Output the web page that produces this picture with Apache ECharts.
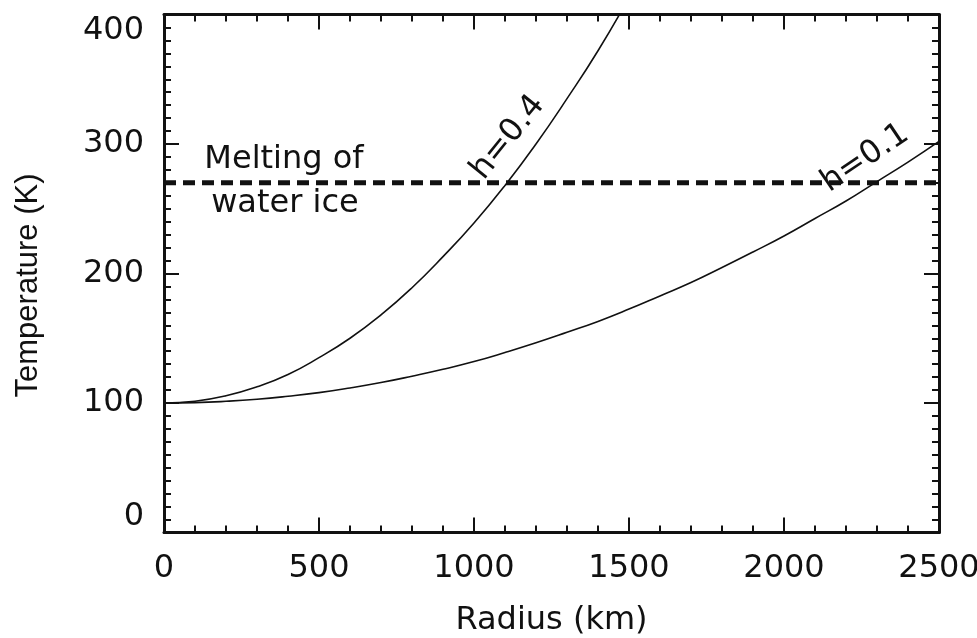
<!DOCTYPE html>
<html><head><meta charset="utf-8">
<script src="https://cdn.jsdelivr.net/npm/echarts@6/dist/echarts.min.js"></script>
<style>html,body{margin:0;padding:0;background:#fff}#c{width:977px;height:638px}</style>
</head><body><div id="c"></div>
<script>
// Radius (km) and temperature (K)
const radiusH04 = [0,100,200,300,400,500,600,700,800,900,1000,1100,1200,1300,1400,1500];
const tempH04   = [100,101.4,105.6,112.5,122,135,150,168,189,213,239,268,300,335,372,413];
const radiusH01 = [0,100,200,300,400,500,600,700,800,900,1000,1100,1200,1300,1400,1500,1600,1700,1800,1900,2000,2100,2200,2300,2400,2500];
const tempH01   = [100,100.3,101.3,102.9,105.2,108,111.6,115.8,120.7,126,132,139,146.5,154.6,163,172.5,182.7,193,204.6,216.6,229,242.5,256,271,286,302];
const meltingTemp = 270;
const meltingRange = [0, 2500];
// annotation texts and their anchor (radius, temperature)
const curveLabels = [
  {text: 'h=0.4', r: 1110, t: 305, rot: 51},
  {text: 'h=0.1', r: 2262, t: 289, rot: 34}
];
const noteLines = [
  {text: 'Melting of', r: 387, t: 288},
  {text: 'water ice', r: 390, t: 254}
];

const zip = (a, b) => a.map((v, i) => [v, b[i]]);
const black = '#111';
const tickFont = 'DejaVu Sans';
const FS = 32;

function xAx(pos, showLabels) {
  return {
    type: 'value', position: pos, min: 0, max: 2500, interval: 500,
    axisLine: {show: true, onZero: false, lineStyle: {color: black, width: 3}},
    axisTick: {show: true, inside: true, length: 15, lineStyle: {color: black, width: 2}},
    minorTick: {show: true, splitNumber: 5, length: 7, lineStyle: {color: black, width: 2}},
    splitLine: {show: false},
    axisLabel: {show: showLabels, fontSize: FS, fontFamily: tickFont, color: black, margin: 20,
      formatter: v => String(v)},
    name: showLabels ? 'Radius (km)' : '',
    nameLocation: 'middle', nameGap: 72,
    nameTextStyle: {fontSize: FS, fontFamily: tickFont, color: black}
  };
}
function yAx(pos, showLabels) {
  return {
    type: 'value', position: pos, min: 0, max: 400, interval: 100,
    axisLine: {show: true, onZero: false, lineStyle: {color: black, width: 3}},
    axisTick: {show: true, inside: true, length: 15, lineStyle: {color: black, width: 2}},
    minorTick: {show: true, splitNumber: 10, length: 7, lineStyle: {color: black, width: 2}},
    splitLine: {show: false},
    axisLabel: {show: showLabels, fontSize: FS, fontFamily: tickFont, color: black, margin: 20,
      formatter: v => String(v),
      verticalAlignMaxLabel: 'top', verticalAlignMinLabel: 'bottom'},
    name: showLabels ? 'Temperature (K)' : '',
    nameLocation: 'middle', nameGap: 120,
    nameTextStyle: {fontSize: 31, fontFamily: 'Liberation Sans', color: black, padding: [0, 24, 0, 0]}
  };
}

const chart = echarts.init(document.getElementById('c'), null, {renderer: 'canvas'});
chart.setOption({
  backgroundColor: '#fff',
  animation: false,
  grid: {left: 164, right: 38, top: 14.5, bottom: 105.5, containLabel: false, outerBoundsMode: 'none'},
  xAxis: [xAx('bottom', true), xAx('top', false)],
  yAxis: [yAx('left', true), yAx('right', false)],
  series: [
    {type: 'line', data: zip(radiusH04, tempH04), smooth: true, showSymbol: false, clip: true,
      lineStyle: {color: black, width: 1.6}},
    {type: 'line', data: zip(radiusH01, tempH01), smooth: true, showSymbol: false, clip: true,
      lineStyle: {color: black, width: 1.6}},
    {type: 'line', data: meltingRange.map(r => [r, meltingTemp]), showSymbol: false,
      lineStyle: {color: black, width: 5, type: [12, 7]}},
    {type: 'scatter', symbolSize: 0, silent: true, itemStyle: {opacity: 1, color: black},
      data: curveLabels.map(l => ({value: [l.r, l.t], name: l.text, label: {rotate: l.rot}})),
      label: {show: true, position: 'inside', formatter: p => p.name, fontSize: FS,
        fontFamily: tickFont, color: black, opacity: 1}},
    {type: 'scatter', symbolSize: 0, silent: true, itemStyle: {opacity: 1, color: black},
      data: noteLines.map(l => ({value: [l.r, l.t], name: l.text})),
      label: {show: true, position: 'inside', formatter: p => p.name, fontSize: FS,
        fontFamily: tickFont, color: black, opacity: 1}}
  ]
});
</script></body></html>
